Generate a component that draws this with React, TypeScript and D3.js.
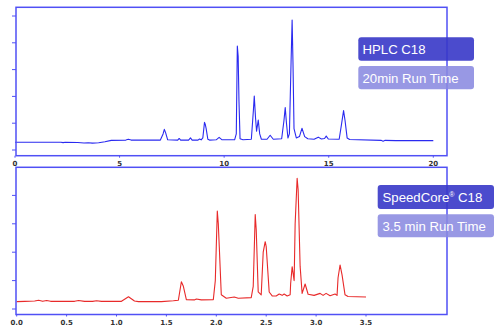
import React from "react";
import * as d3 from "d3";

// HPLC C18 trace: [time (min), signal]
const hplcTrace: [number, number][] = [
  [0, 29], [2.2, 29], [2.3, 27.5], [2.4, 29], [3.0, 28], [3.3, 26], [3.5, 27], [3.7, 25.5], [4.0, 27],
  [4.3, 31], [4.6, 36], [5.3, 37], [5.42, 40], [5.55, 37], [6.95, 37], [7.08, 60], [7.14, 77], [7.2, 65],
  [7.3, 38], [7.78, 37], [7.85, 43], [7.92, 37], [8.3, 37], [8.39, 45], [8.47, 37], [8.75, 37], [8.82, 41],
  [8.9, 38], [8.98, 45], [9.06, 103], [9.1, 95], [9.14, 80], [9.22, 40], [9.3, 37], [9.62, 38], [9.76, 47],
  [9.9, 38], [10.5, 38], [10.58, 60], [10.63, 388], [10.67, 350], [10.71, 180], [10.76, 42], [10.9, 38],
  [11.3, 40], [11.4, 150], [11.44, 201], [11.5, 120], [11.55, 70], [11.63, 112], [11.7, 60], [11.78, 40],
  [12.05, 40], [12.2, 55], [12.35, 40], [12.75, 42], [12.86, 110], [12.92, 158], [12.98, 100], [13.05, 45],
  [13.12, 60], [13.2, 330], [13.25, 485], [13.29, 330], [13.34, 80], [13.45, 45], [13.6, 50], [13.72, 81],
  [13.85, 50], [14.0, 42], [14.3, 40], [14.5, 48], [14.65, 41], [14.8, 43], [14.88, 52], [14.98, 41],
  [15.5, 40], [15.62, 100], [15.71, 147], [15.78, 110], [15.88, 45], [16.0, 39], [17.5, 36], [17.6, 33],
  [17.7, 36], [18.2, 35], [20, 35],
];

// SpeedCore C18 trace: [time (min), signal]
const speedTrace: [number, number][] = [
  [0, 26], [0.08, 27], [0.18, 28], [0.22, 31], [0.26, 27], [0.3, 30], [0.34, 27], [0.58, 27], [0.62, 30],
  [0.68, 27], [0.76, 27], [0.8, 29], [0.85, 27], [1.05, 27], [1.12, 43], [1.18, 28], [1.22, 26], [1.45, 26],
  [1.57, 29], [1.62, 31], [1.65, 96], [1.67, 80], [1.7, 33], [1.78, 32], [1.8, 35], [1.85, 32], [1.97, 33],
  [1.99, 100], [2.01, 345], [2.02, 300], [2.03, 218], [2.05, 50], [2.1, 38], [2.18, 42], [2.22, 38],
  [2.35, 40], [2.37, 80], [2.39, 333], [2.4, 280], [2.42, 60], [2.45, 50], [2.47, 200], [2.49, 237],
  [2.5, 220], [2.53, 60], [2.56, 46], [2.6, 46], [2.63, 53], [2.66, 48], [2.68, 53], [2.71, 46], [2.74, 50],
  [2.745, 90], [2.76, 149], [2.78, 100], [2.79, 300], [2.81, 460], [2.82, 420], [2.84, 150], [2.86, 55],
  [2.89, 88], [2.92, 52], [2.98, 48], [3.04, 55], [3.07, 48], [3.1, 55], [3.14, 47], [3.19, 53], [3.21, 48],
  [3.22, 110], [3.24, 155], [3.26, 120], [3.29, 50], [3.32, 44], [3.5, 42],
];

const hplcXTicks = [0, 5, 10, 15, 20];
const speedXTicks = [0, 0.5, 1.0, 1.5, 2.0, 2.5, 3.0, 3.5];
const hplcYTicks = [0, 100, 200, 300, 400, 500];
const speedYTicks = [0, 100, 200, 300, 400];

const hplcLabels = ["HPLC C18", "20min Run Time"];
const speedLabels = ["SpeedCore", "C18", "3.5 min Run Time"];

const FRAME = "#5050f5";
const LABEL_FONT = "'Liberation Sans', Arial, sans-serif";
const TICK_FONT = "'DejaVu Sans', Verdana, sans-serif";

export default function App() {
  const W = 496, H = 329;

  const xTop = d3.scaleLinear().domain([0, 20]).range([15, 433.3]);
  const yTop = d3.scaleLinear().domain([0, 500]).range([150, 16]);
  const xBot = d3.scaleLinear().domain([0, 3.5]).range([16.7, 366]);
  const yBot = d3.scaleLinear().domain([0, 500]).range([309, 167]);

  const lineTop = d3.line<[number, number]>().x(d => xTop(d[0])).y(d => yTop(d[1]));
  const lineBot = d3.line<[number, number]>().x(d => xBot(d[0])).y(d => yBot(d[1]));

  const topFrame = { x0: 16, x1: 447, y0: 7.3, y1: 155.7 };
  const botFrame = { x0: 16, x1: 447, y0: 167.3, y1: 314.5 };

  return (
    <svg width={W} height={H} style={{ position: "absolute", left: 0, top: 0 }}>
      <rect width={W} height={H} fill="#fff" />

      {/* Top panel */}
      <path d={lineTop(hplcTrace) || ""} fill="none" stroke="#2a2af0" strokeWidth={1.1} strokeLinejoin="round" />
      <rect x={topFrame.x0} y={topFrame.y0} width={topFrame.x1 - topFrame.x0} height={topFrame.y1 - topFrame.y0}
        fill="none" stroke={FRAME} strokeWidth={1.5} />
      {hplcYTicks.map(t => (
        <line key={"ty" + t} x1={12} x2={topFrame.x0} y1={yTop(t)} y2={yTop(t)} stroke={FRAME} strokeWidth={1} />
      ))}
      {hplcXTicks.map(t => (
        <g key={"tx" + t}>
          <line x1={xTop(t)} x2={xTop(t)} y1={topFrame.y1} y2={topFrame.y1 + 2} stroke={FRAME} strokeWidth={1} />
          <text x={xTop(t)} y={165.5} textAnchor="middle" fontFamily={TICK_FONT} fontWeight="bold" fontSize={7} fill="#333">
            {t}
          </text>
        </g>
      ))}

      {/* Bottom panel */}
      <path d={lineBot(speedTrace) || ""} fill="none" stroke="#e82a2a" strokeWidth={1.1} strokeLinejoin="round" />
      <rect x={botFrame.x0} y={botFrame.y0} width={botFrame.x1 - botFrame.x0} height={botFrame.y1 - botFrame.y0}
        fill="none" stroke={FRAME} strokeWidth={1.5} />
      {speedYTicks.map(t => (
        <line key={"by" + t} x1={12} x2={botFrame.x0} y1={yBot(t)} y2={yBot(t)} stroke={FRAME} strokeWidth={1} />
      ))}
      {speedXTicks.map(t => (
        <g key={"bx" + t}>
          <line x1={xBot(t)} x2={xBot(t)} y1={botFrame.y1} y2={botFrame.y1 + 2} stroke={FRAME} strokeWidth={1} />
          <text x={xBot(t)} y={324.5} textAnchor="middle" fontFamily={TICK_FONT} fontWeight="bold" fontSize={7} fill="#333">
            {d3.format(".1f")(t)}
          </text>
        </g>
      ))}

      {/* Label boxes */}
      <rect x={358.3} y={37.3} width={115.7} height={23.4} rx={3} fill="#3737c8" fillOpacity={0.9} />
      <text x={362.5} y={54} fontFamily={LABEL_FONT} fontSize={13.2} fill="#fff">{hplcLabels[0]}</text>
      <rect x={358.3} y={66} width={115.7} height={23.3} rx={3} fill="#8a8ae0" fillOpacity={0.88} />
      <text x={362.5} y={82.5} fontFamily={LABEL_FONT} fontSize={13.2} fill="#fff">{hplcLabels[1]}</text>

      <rect x={377.7} y={185} width={116.3} height={24} rx={3} fill="#3737c8" fillOpacity={0.9} />
      <text x={382.5} y={202} fontFamily={LABEL_FONT} fontSize={13.2} fill="#fff">
        {speedLabels[0]}
        <tspan fontSize={7} dy={-5}>®</tspan>
        <tspan dy={5}>{" " + speedLabels[1]}</tspan>
      </text>
      <rect x={377.7} y={214.3} width={116.3} height={23} rx={3} fill="#8a8ae0" fillOpacity={0.88} />
      <text x={382.5} y={230.5} fontFamily={LABEL_FONT} fontSize={13.2} fill="#fff">{speedLabels[2]}</text>
    </svg>
  );
}
